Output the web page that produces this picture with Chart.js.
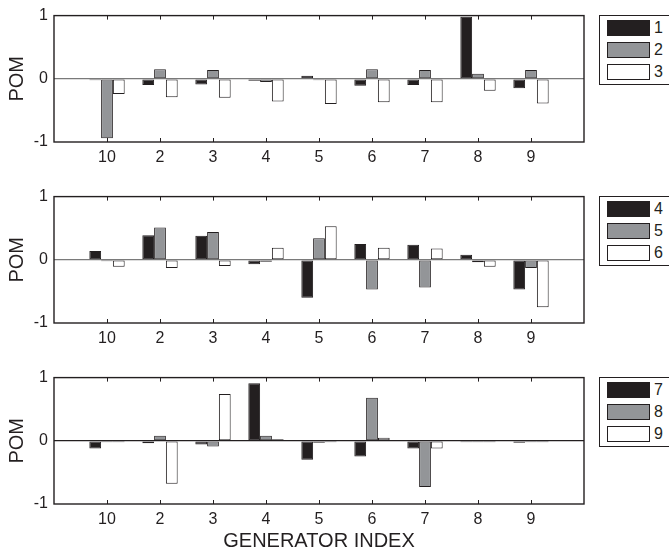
<!DOCTYPE html>
<html>
<head>
<meta charset="utf-8">
<script src="https://cdn.jsdelivr.net/npm/chart.js@4/dist/chart.umd.min.js"></script>
<style>
    body { margin: 0; width: 669px; height: 555px; overflow: hidden; background: #fff; position: relative;
           font-family: 'Liberation Sans', Arial, sans-serif; color: #231f20 }
    canvas { position: absolute; left: 0 }
    .legend { position: absolute; left: 599px; width: 74px; height: 68px; border: 1px solid #231f20; background: #fff }
    .legend .row { position: absolute; left: 7px; height: 16px }
    .legend .sw { position: absolute; left: 0; top: 0; width: 41px; height: 14px; border: 1px solid #231f20 }
    .legend .lbl { position: absolute; left: 47px; top: 0; font-size: 16px; line-height: 16px }
</style>
</head>
<body>
<script>
const categories = ['10', '2', '3', '4', '5', '6', '7', '8', '9']
const yTicks = [-1, 0, 1]

// POM per generator, one array per mode
const mode1 = [-0.01, -0.10, -0.09, -0.03, 0.05, -0.11, -0.10, 0.98, -0.15]
const mode2 = [-0.94, 0.15, 0.14, -0.05, -0.01, 0.15, 0.14, 0.08, 0.14]
const mode3 = [-0.24, -0.29, -0.30, -0.36, -0.40, -0.37, -0.37, -0.19, -0.39]

const mode4 = [0.14, 0.39, 0.38, -0.07, -0.60, 0.25, 0.24, 0.08, -0.47]
const mode5 = [-0.02, 0.51, 0.44, -0.03, 0.34, -0.47, -0.44, -0.04, -0.13]
const mode6 = [-0.11, -0.13, -0.10, 0.19, 0.53, 0.19, 0.18, -0.11, -0.75]

const mode7 = [-0.12, -0.04, -0.06, 0.91, -0.30, -0.25, -0.12, -0.01, -0.03]
const mode8 = [-0.01, 0.08, -0.09, 0.08, -0.03, 0.68, -0.73, -0.01, -0.01]
const mode9 = [-0.01, -0.68, 0.74, 0.02, -0.01, 0.05, -0.12, -0.01, -0.01]

const fills = ['#231f20', '#939598', '#ffffff']
const ink = '#231f20'
const font = "'Liberation Sans', Arial, sans-serif"

const panels = [
    {top: 0, height: 181, labels: ['1', '2', '3'], series: [mode1, mode2, mode3], zero: '#7a7a7a', xTitle: ''},
    {top: 181, height: 181, labels: ['4', '5', '6'], series: [mode4, mode5, mode6], zero: '#7a7a7a', xTitle: ''},
    {top: 362, height: 193, labels: ['7', '8', '9'], series: [mode7, mode8, mode9], zero: '#231f20', xTitle: 'GENERATOR INDEX'}
]

// box round the plot area plus MATLAB style inward ticks
const frame = {
    id: 'frame',
    afterDatasetsDraw(chart) {
        const {ctx, chartArea: a, scales: {x}} = chart
        ctx.save()
        ctx.strokeStyle = ink
        ctx.lineWidth = 1
        categories.forEach((c, i) => {
            const px = Math.round(x.getPixelForValue(i + 1)) + 0.5
            ctx.beginPath()
            ctx.moveTo(px, a.top)
            ctx.lineTo(px, a.top + 4)
            ctx.moveTo(px, a.bottom)
            ctx.lineTo(px, a.bottom - 4)
            ctx.stroke()
        })
        ctx.lineWidth = 1.4
        ctx.strokeRect(a.left, a.top, a.width, a.height)
        ctx.restore()
    }
}

panels.forEach((p) => {
    const canvas = document.createElement('canvas')
    canvas.width = 669
    canvas.height = p.height
    canvas.style.top = p.top + 'px'
    document.body.appendChild(canvas)

    const chart = new Chart(canvas.getContext('2d'), {
        type: 'bar',
        data: {
            datasets: p.series.map((s, j) => ({
                label: p.labels[j],
                data: s.map((v, i) => ({x: i + 1, y: v})),
                backgroundColor: fills[j],
                borderColor: ink,
                borderWidth: 1,
                borderSkipped: false,
                minBarLength: 1.5
            }))
        },
        options: {
            responsive: false,
            animation: false,
            devicePixelRatio: 1,
            categoryPercentage: 0.667,
            barPercentage: 1,
            layout: {padding: {left: 0, right: 85, top: 12, bottom: 0}},
            plugins: {legend: {display: false}, tooltip: {enabled: false}},
            scales: {
                x: {
                    type: 'linear',
                    offset: false,
                    min: 0,
                    max: 10,
                    grid: {display: false, drawTicks: false, offset: false},
                    border: {display: false},
                    ticks: {
                        stepSize: 1,
                        autoSkip: false,
                        maxRotation: 0,
                        padding: 6,
                        color: ink,
                        font: {family: font, size: 16},
                        callback: (v) => (v >= 1 && v <= categories.length) ? categories[v - 1] : ''
                    },
                    title: {
                        display: p.xTitle !== '',
                        text: p.xTitle,
                        color: ink,
                        font: {family: font, size: 20},
                        padding: {top: 0, bottom: 2}
                    },
                    afterFit: (s) => { s.height = p.height - 12 - 130 }
                },
                y: {
                    min: -1,
                    max: 1,
                    afterBuildTicks: (s) => { s.ticks = yTicks.map((v) => ({value: v})) },
                    grid: {
                        drawTicks: false,
                        color: (c) => c.tick && c.tick.value === 0 ? p.zero : 'rgba(0,0,0,0)',
                        lineWidth: 1.2
                    },
                    border: {display: false},
                    ticks: {
                        padding: 6,
                        color: ink,
                        font: {family: font, size: 16},
                        callback: (v) => String(v)
                    },
                    title: {
                        display: true,
                        text: 'POM',
                        color: ink,
                        font: {family: font, size: 20},
                        padding: {top: 5, bottom: 0}
                    },
                    afterFit: (s) => { s.width = 54 }
                }
            }
        },
        plugins: [frame]
    })

    // legend box to the right of each panel
    const box = document.createElement('div')
    box.className = 'legend'
    box.style.top = (p.top + chart.chartArea.top - 1) + 'px'
    chart.data.datasets.forEach((ds, j) => {
        const row = document.createElement('div')
        row.className = 'row'
        row.style.top = (4 + j * 22.2) + 'px'
        row.innerHTML = '<div class="sw" style="background:' + ds.backgroundColor + '"></div><div class="lbl">' + ds.label + '</div>'
        box.appendChild(row)
    })
    document.body.appendChild(box)
})
</script>
</body>
</html>
